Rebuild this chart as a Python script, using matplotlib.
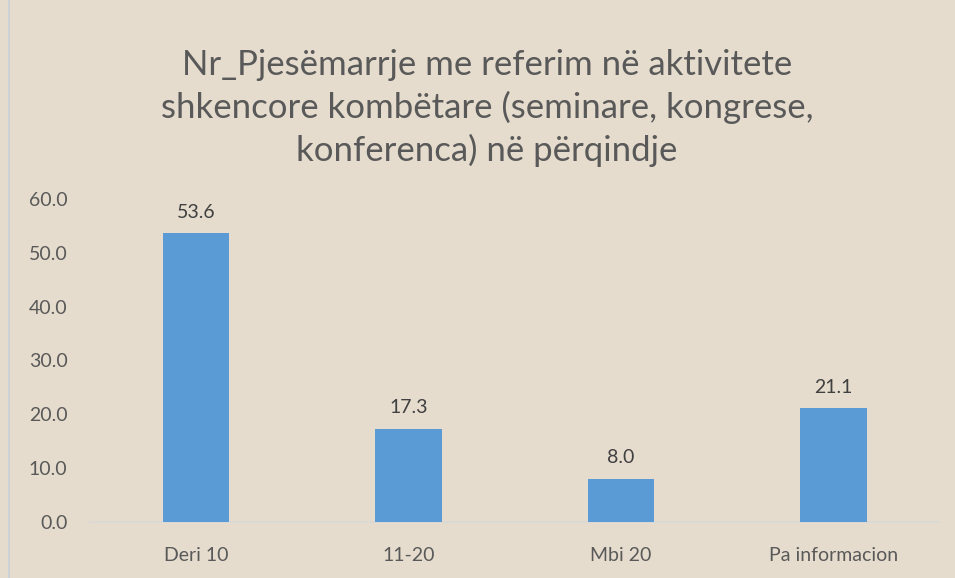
import matplotlib.pyplot as plt
import numpy as np

CATEGORIES = ["Deri 10", "11-20", "Mbi 20", "Pa informacion"]
VALUES = [53.6, 17.3, 8.0, 21.1]
Y_TICKS = [0, 10, 20, 30, 40, 50, 60]
TITLE = ("Nr_Pjesëmarrje me referim në aktivitete\n"
         "shkencore kombëtare (seminare, kongrese,\n"
         "konferenca) në përqindje")

BG = "#e5dccd"
BAR = "#5b9bd5"
TEXT = "#595959"

plt.rcParams["font.family"] = ["Lato", "DejaVu Sans"]

fig = plt.figure(figsize=(9.55, 5.78), dpi=100)
fig.patch.set_facecolor(BG)
ax = fig.add_axes([0.094, 0.097, 0.890, 0.559])
ax.set_facecolor("none")

x = np.arange(len(CATEGORIES))
bars = ax.bar(x, VALUES, width=0.315, color=BAR, zorder=3)
for rect, v in zip(bars, VALUES):
    ax.annotate(f"{v:.1f}", (rect.get_x() + rect.get_width() / 2, v),
                xytext=(0, 9), textcoords="offset points",
                ha="center", va="bottom", fontsize=14, color="#404040")

ax.set_xlim(-0.5, len(CATEGORIES) - 0.5)
ax.set_ylim(0, 60)
ax.set_yticks(Y_TICKS)
ax.set_yticklabels([f"{t:.1f}" for t in Y_TICKS])
ax.set_xticks(x)
ax.set_xticklabels(CATEGORIES)
ax.tick_params(axis="both", length=0, labelsize=14, labelcolor=TEXT)
ax.tick_params(axis="x", pad=18)
ax.tick_params(axis="y", pad=16)

for side in ["top", "right", "left"]:
    ax.spines[side].set_visible(False)
ax.spines["bottom"].set_color("#d9d9d9")
ax.spines["bottom"].set_linewidth(1.2)

fig.text(0.51, 0.813, TITLE, ha="center", va="center", fontsize=25,
         color=TEXT, linespacing=1.36)

# thin frame line at the left edge of the chart area
fig.add_artist(plt.Line2D([0.009, 0.009], [0, 1], color="#c8d0d8", lw=1.2))

fig.savefig("out.png", dpi=100, facecolor=fig.get_facecolor())
